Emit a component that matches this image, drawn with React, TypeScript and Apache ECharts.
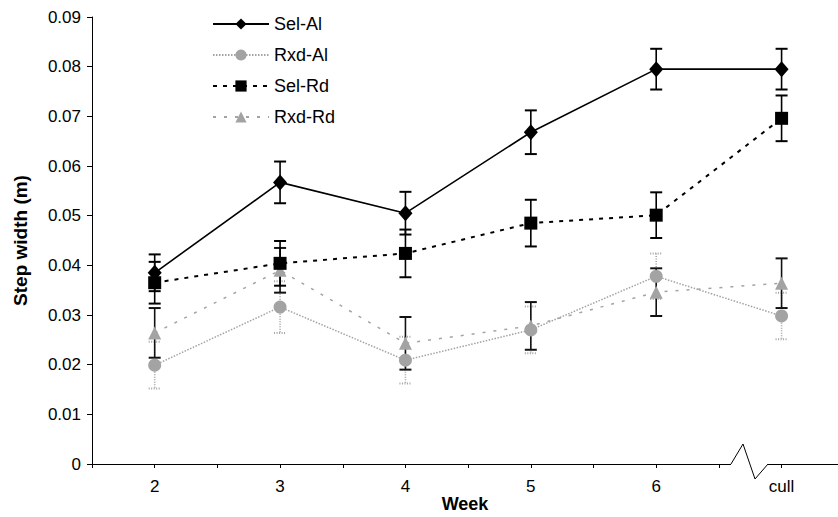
import React, { useEffect, useRef } from "react";
import * as echarts from "echarts";

const weeks = [2, 3, 4, 5, 6, 7];
const weekLabels: Record<number, string> = { 2: "2", 3: "3", 4: "4", 5: "5", 6: "6", 7: "cull" };

const selAl = [0.0385, 0.0567, 0.0505, 0.0668, 0.0795, 0.0795];
const selAlErr = [0.0037, 0.0042, 0.0043, 0.0044, 0.0041, 0.0041];
const rxdAl = [0.0199, 0.0316, 0.0209, 0.027, 0.0378, 0.0298];
const rxdAlErr = [0.0047, 0.0052, 0.0047, 0.0047, 0.0046, 0.0047];
const selRd = [0.0365, 0.0404, 0.0424, 0.0485, 0.0501, 0.0696];
const selRdErr = [0.0042, 0.0045, 0.0048, 0.0047, 0.0046, 0.0046];
const rxdRd = [0.0264, 0.039, 0.0243, 0.0278, 0.0346, 0.0364];
const rxdRdErr = [0.005, 0.0045, 0.0053, 0.0048, 0.0048, 0.005];

const FONT = "'Liberation Sans', Arial, sans-serif";
const GRAY = "#a3a3a3";

function pairs(vals: number[]) {
  return weeks.map((w, i) => [w, vals[i]]);
}
function errData(vals: number[], errs: number[]) {
  return weeks.map((w, i) => [w, vals[i] - errs[i], vals[i] + errs[i]]);
}

function errSeries(name: string, vals: number[], errs: number[], color: string, type: string) {
  return {
    type: "custom",
    name: name + "-err",
    data: errData(vals, errs),
    z: 1,
    silent: true,
    renderItem: (params: any, api: any) => {
      const x = api.value(0);
      const top = api.coord([x, api.value(2)]);
      const bot = api.coord([x, api.value(1)]);
      const hw = 6;
      const style: any = { stroke: color, lineWidth: 1.6, lineDash: type === "dotted" ? [1, 1.5] : null };
      return {
        type: "group",
        children: [
          { type: "line", shape: { x1: top[0], y1: top[1], x2: bot[0], y2: bot[1] }, style },
          { type: "line", shape: { x1: top[0] - hw, y1: top[1], x2: top[0] + hw, y2: top[1] }, style: { ...style, lineWidth: 2 } },
          { type: "line", shape: { x1: bot[0] - hw, y1: bot[1], x2: bot[0] + hw, y2: bot[1] }, style: { ...style, lineWidth: 2 } },
        ],
      };
    },
  };
}

export default function App() {
  const ref = useRef<HTMLDivElement>(null);
  useEffect(() => {
    if (!ref.current) return;
    const chart = echarts.init(ref.current, null, { renderer: "svg" });
    chart.setOption({
      animation: false,
      backgroundColor: "#ffffff",
      grid: { left: 92, right: 0, top: 17, bottom: 53, outerBoundsMode: "none", containLabel: false },
      legend: {
        orient: "vertical",
        left: 207,
        top: 10,
        itemWidth: 56,
        itemHeight: 14,
        itemGap: 13,
        textStyle: { fontFamily: FONT, fontSize: 18, color: "#000" },
        data: ["Sel-Al", "Rxd-Al", "Sel-Rd", "Rxd-Rd"],
      },
      xAxis: {
        type: "value",
        min: 1.5,
        max: 7.45,
        interval: 0.5,
        name: "Week",
        nameLocation: "middle",
        nameGap: 31,
        nameMoveOverlap: false,
        nameTextStyle: { fontFamily: FONT, fontSize: 18, fontWeight: "bold", color: "#000" },
        splitLine: { show: false },
        axisLine: { lineStyle: { color: "#000", width: 1 } },
        axisTick: { show: true, length: 4, lineStyle: { color: "#000" } },
        axisLabel: {
          margin: 14,
          fontFamily: FONT,
          fontSize: 17,
          color: "#000",
          showMinLabel: true,
          showMaxLabel: false,
          formatter: (v: number) => (Number.isInteger(v) && weekLabels[v] ? weekLabels[v] : ""),
        },
      },
      yAxis: {
        type: "value",
        min: 0,
        max: 0.09,
        interval: 0.01,
        name: "Step width (m)",
        nameLocation: "middle",
        nameGap: 62,
        nameTextStyle: { fontFamily: FONT, fontSize: 19, fontWeight: "bold", color: "#000" },
        splitLine: { show: false },
        axisLine: { show: true, lineStyle: { color: "#000", width: 1 } },
        axisTick: { show: true, length: 5, lineStyle: { color: "#000" } },
        axisLabel: {
          margin: 11,
          fontFamily: FONT,
          fontSize: 17,
          color: "#000",
          formatter: (v: number) => (v === 0 ? "0" : v.toFixed(2)),
        },
      },
      graphic: [
        { type: "rect", shape: { x: 731, y: 460, width: 37, height: 6 }, style: { fill: "#fff" }, z: 100 },
        {
          type: "polyline",
          shape: { points: [[731, 464], [743, 444], [755, 479], [768, 464]] },
          style: { stroke: "#000", lineWidth: 1, fill: "none" },
          z: 101,
        },
      ],
      series: [
        errSeries("Rxd-Al", rxdAl, rxdAlErr, GRAY, "dotted"),
        errSeries("Rxd-Rd", rxdRd, rxdRdErr, "#111", "solid"),
        errSeries("Sel-Rd", selRd, selRdErr, "#000", "solid"),
        errSeries("Sel-Al", selAl, selAlErr, "#000", "solid"),
        {
          type: "line",
          name: "Rxd-Al",
          data: pairs(rxdAl),
          symbol: "circle",
          symbolSize: 13,
          z: 3,
          itemStyle: { color: GRAY },
          lineStyle: { color: GRAY, width: 1.5, type: [1.5, 1.5] },
        },
        {
          type: "line",
          name: "Rxd-Rd",
          data: pairs(rxdRd),
          symbol: "triangle",
          symbolSize: 13,
          z: 3,
          itemStyle: { color: GRAY },
          lineStyle: { color: GRAY, width: 1.5, type: [3, 8] },
        },
        {
          type: "line",
          name: "Sel-Rd",
          data: pairs(selRd),
          symbol: "rect",
          symbolSize: 13,
          z: 4,
          itemStyle: { color: "#000" },
          lineStyle: { color: "#000", width: 2, type: [4, 6] },
        },
        {
          type: "line",
          name: "Sel-Al",
          data: pairs(selAl),
          symbol: "diamond",
          symbolSize: [14, 16],
          z: 5,
          itemStyle: { color: "#000" },
          lineStyle: { color: "#000", width: 1.6, type: "solid" },
        },
      ],
    });
    return () => chart.dispose();
  }, []);
  return <div ref={ref} style={{ position: "fixed", left: 0, top: 0, width: 838, height: 517 }} />;
}
